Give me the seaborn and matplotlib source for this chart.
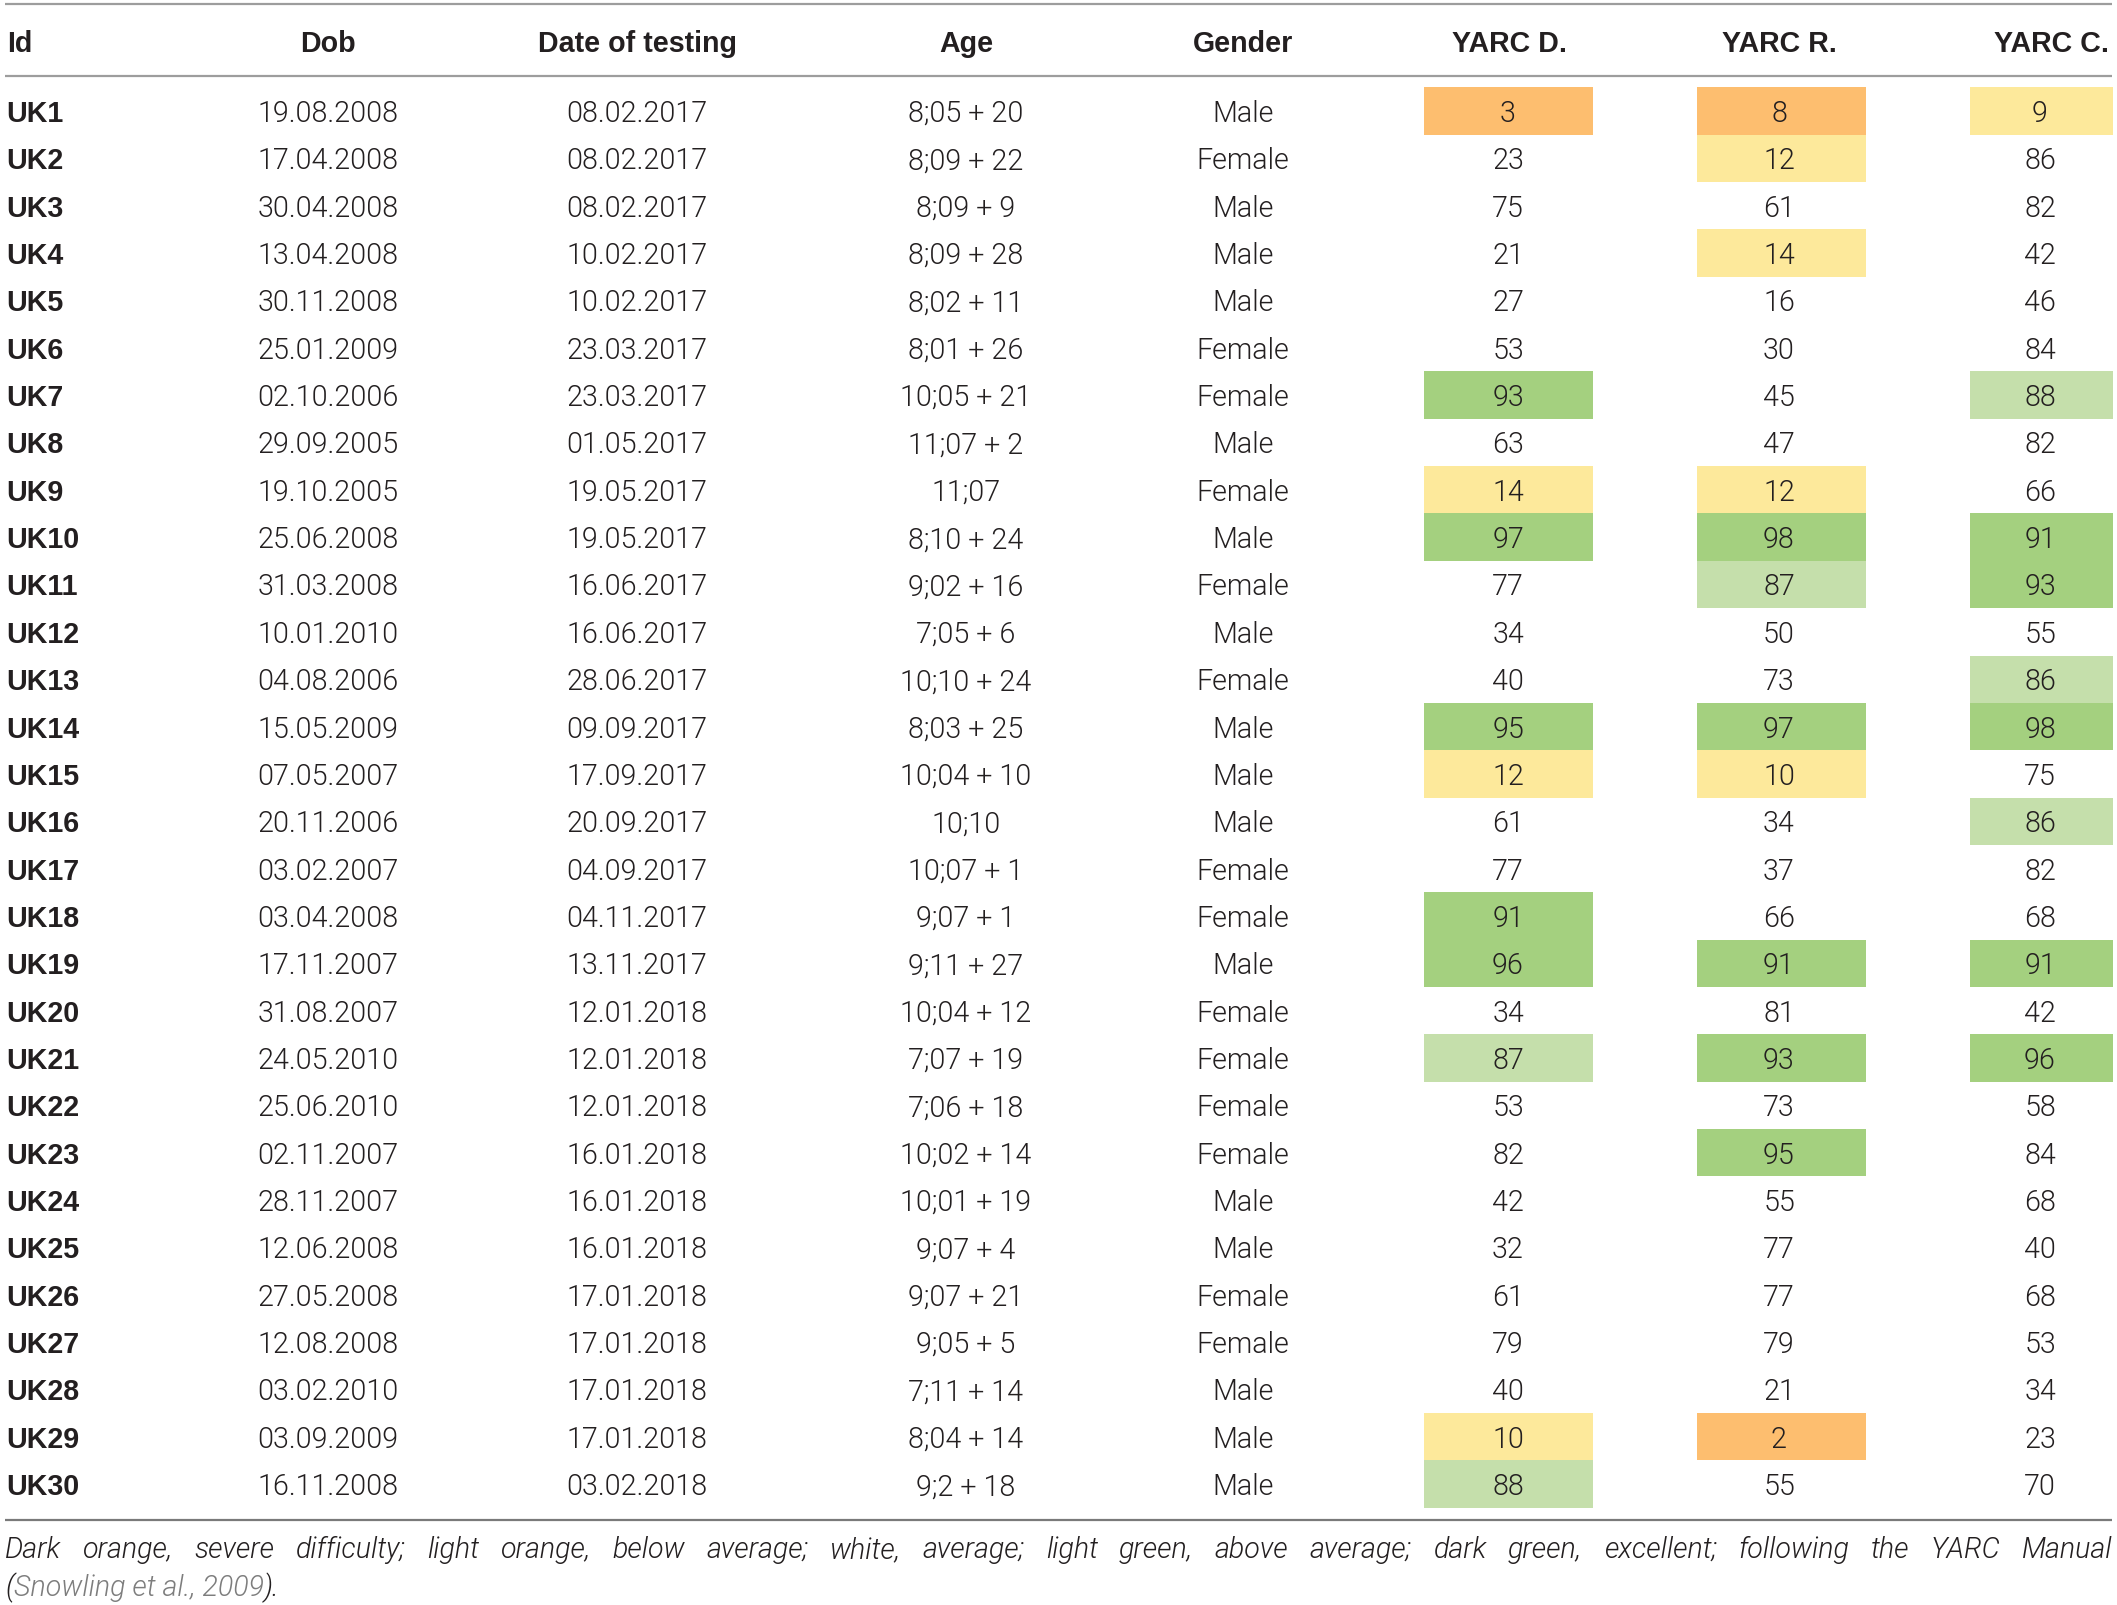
import numpy as np
import pandas as pd
import matplotlib
matplotlib.use("Agg")
import matplotlib.pyplot as plt
from matplotlib.colors import ListedColormap
from matplotlib import font_manager
import seaborn as sns

# table contents
ids = ["UK1", "UK2", "UK3", "UK4", "UK5", "UK6", "UK7", "UK8", "UK9", "UK10",
       "UK11", "UK12", "UK13", "UK14", "UK15", "UK16", "UK17", "UK18", "UK19", "UK20",
       "UK21", "UK22", "UK23", "UK24", "UK25", "UK26", "UK27", "UK28", "UK29", "UK30"]
dob = ["19.08.2008", "17.04.2008", "30.04.2008", "13.04.2008", "30.11.2008",
       "25.01.2009", "02.10.2006", "29.09.2005", "19.10.2005", "25.06.2008",
       "31.03.2008", "10.01.2010", "04.08.2006", "15.05.2009", "07.05.2007",
       "20.11.2006", "03.02.2007", "03.04.2008", "17.11.2007", "31.08.2007",
       "24.05.2010", "25.06.2010", "02.11.2007", "28.11.2007", "12.06.2008",
       "27.05.2008", "12.08.2008", "03.02.2010", "03.09.2009", "16.11.2008"]
date_testing = ["08.02.2017", "08.02.2017", "08.02.2017", "10.02.2017", "10.02.2017",
                "23.03.2017", "23.03.2017", "01.05.2017", "19.05.2017", "19.05.2017",
                "16.06.2017", "16.06.2017", "28.06.2017", "09.09.2017", "17.09.2017",
                "20.09.2017", "04.09.2017", "04.11.2017", "13.11.2017", "12.01.2018",
                "12.01.2018", "12.01.2018", "16.01.2018", "16.01.2018", "16.01.2018",
                "17.01.2018", "17.01.2018", "17.01.2018", "17.01.2018", "03.02.2018"]
age = ["8;05 + 20", "8;09 + 22", "8;09 + 9", "8;09 + 28", "8;02 + 11",
       "8;01 + 26", "10;05 + 21", "11;07 + 2", "11;07", "8;10 + 24",
       "9;02 + 16", "7;05 + 6", "10;10 + 24", "8;03 + 25", "10;04 + 10",
       "10;10", "10;07 + 1", "9;07 + 1", "9;11 + 27", "10;04 + 12",
       "7;07 + 19", "7;06 + 18", "10;02 + 14", "10;01 + 19", "9;07 + 4",
       "9;07 + 21", "9;05 + 5", "7;11 + 14", "8;04 + 14", "9;2 + 18"]
gender = ["Male", "Female", "Male", "Male", "Male", "Female", "Female", "Male", "Female", "Male",
          "Female", "Male", "Female", "Male", "Male", "Male", "Female", "Female", "Male", "Female",
          "Female", "Female", "Female", "Male", "Male", "Female", "Female", "Male", "Male", "Male"]
yarc_d = [3, 23, 75, 21, 27, 53, 93, 63, 14, 97, 77, 34, 40, 95, 12,
          61, 77, 91, 96, 34, 87, 53, 82, 42, 32, 61, 79, 40, 10, 88]
yarc_r = [8, 12, 61, 14, 16, 30, 45, 47, 12, 98, 87, 50, 73, 97, 10,
          34, 37, 66, 91, 81, 93, 73, 95, 55, 77, 77, 79, 21, 2, 55]
yarc_c = [9, 86, 82, 42, 46, 84, 88, 82, 66, 91, 93, 55, 86, 98, 75,
          86, 82, 68, 91, 42, 96, 58, 84, 68, 40, 68, 53, 34, 23, 70]

# cell shading: 0 white, 1 light orange, 2 dark orange, 3 light green, 4 dark green
band_d = [2, 0, 0, 0, 0, 0, 4, 0, 1, 4, 0, 0, 0, 4, 1, 0, 0, 4, 4, 0, 3, 0, 0, 0, 0, 0, 0, 0, 1, 3]
band_r = [2, 1, 0, 1, 0, 0, 0, 0, 1, 4, 3, 0, 0, 4, 1, 0, 0, 0, 4, 0, 4, 0, 4, 0, 0, 0, 0, 0, 2, 0]
band_c = [1, 0, 0, 0, 0, 0, 3, 0, 0, 4, 4, 0, 3, 4, 0, 3, 0, 0, 4, 0, 4, 0, 0, 0, 0, 0, 0, 0, 0, 0]

headers = ["Id", "Dob", "Date of testing", "Age", "Gender", "YARC D.", "YARC R.", "YARC C."]
caption_line1 = ("Dark orange, severe difficulty; light orange, below average; white, average; "
                 "light green, above average; dark green, excellent; following the YARC Manual")

band_colors = ["#fde99b", "#fdbe6f", "#c5dfab", "#a4d07f"]
ink = "#231f20"

sns.set_theme(style="white")

def has_weight(name, weight, style="normal"):
    for f in font_manager.fontManager.ttflist:
        if f.name == name and f.weight == weight and f.style == style:
            return True
    return False

light = 300 if has_weight("Roboto", 300) else "normal"
light_it = 300 if has_weight("Roboto", 300, "italic") else "normal"
plt.rcParams["font.family"] = ["Roboto", "DejaVu Sans"]

W, H = 2117, 1606
fig = plt.figure(figsize=(W / 100, H / 100), dpi=100)
fig.patch.set_facecolor("white")

row0, row_h = 112.0, 47.35
n = len(ids)
cell_top = row0 - row_h / 2
fs = 20.6

# shaded score cells, one heatmap per YARC column
cells = [(1424, 169, band_d), (1697, 169, band_r), (1970, 143, band_c)]
cmap = ListedColormap(band_colors)
for x0, w, band in cells:
    cax = fig.add_axes([x0 / W, 1 - (cell_top + n * row_h) / H, w / W, n * row_h / H])
    df = pd.DataFrame({"band": band})
    sns.heatmap(df, ax=cax, cmap=cmap, vmin=0.5, vmax=4.5, mask=(df == 0),
                cbar=False, xticklabels=False, yticklabels=False, linewidths=0)
    cax.axis("off")

ax = fig.add_axes([0, 0, 1, 1], zorder=5)
ax.set_xlim(0, W)
ax.set_ylim(H, 0)
ax.axis("off")
ax.patch.set_alpha(0)

ax.hlines([5, 77], 5, 2112, color="#9d9d9d", linewidth=1.6)
ax.hlines([1521], 5, 2112, color="#7a7a7a", linewidth=1.6)

head_x = [7, 328, 637, 966, 1243, 1509, 1779, 2052]
for i, (h, x) in enumerate(zip(headers, head_x)):
    ax.text(x, 52, h, ha="left" if i == 0 else "center", va="baseline",
            fontsize=fs, family="Liberation Sans", weight="bold", color=ink)

col_x = [328, 637, 966, 1243, 1508, 1779, 2040]
for i in range(n):
    yb = row0 + i * row_h + 10
    ax.text(6, yb, ids[i], ha="left", va="baseline", fontsize=fs,
            family="Liberation Sans", weight="bold", color=ink)
    vals = [dob[i], date_testing[i], age[i], gender[i],
            str(yarc_d[i]), str(yarc_r[i]), str(yarc_c[i])]
    for v, x in zip(vals, col_x):
        ax.text(x, yb, v, ha="center", va="baseline", fontsize=fs,
                weight=light, color=ink)

# caption: first line justified across the table width
renderer = fig.canvas.get_renderer()
words = caption_line1.split(" ")
objs = [ax.text(0, 1558, w_, ha="left", va="baseline", fontsize=fs, style="italic",
                weight=light_it, color=ink) for w_ in words]
widths = [o.get_window_extent(renderer).width for o in objs]
gap = (2112 - 5 - sum(widths)) / (len(words) - 1)
x = 5
for o, wd in zip(objs, widths):
    o.set_x(x)
    x += wd + gap

x = 5
for part, col in [("(", ink), ("Snowling et al., 2009", "#7d7d7d"), (").", ink)]:
    t = ax.text(x, 1596, part, ha="left", va="baseline", fontsize=fs, style="italic",
                weight=light_it, color=col)
    x += t.get_window_extent(renderer).width

fig.savefig("out.png", dpi=100, facecolor="white")
